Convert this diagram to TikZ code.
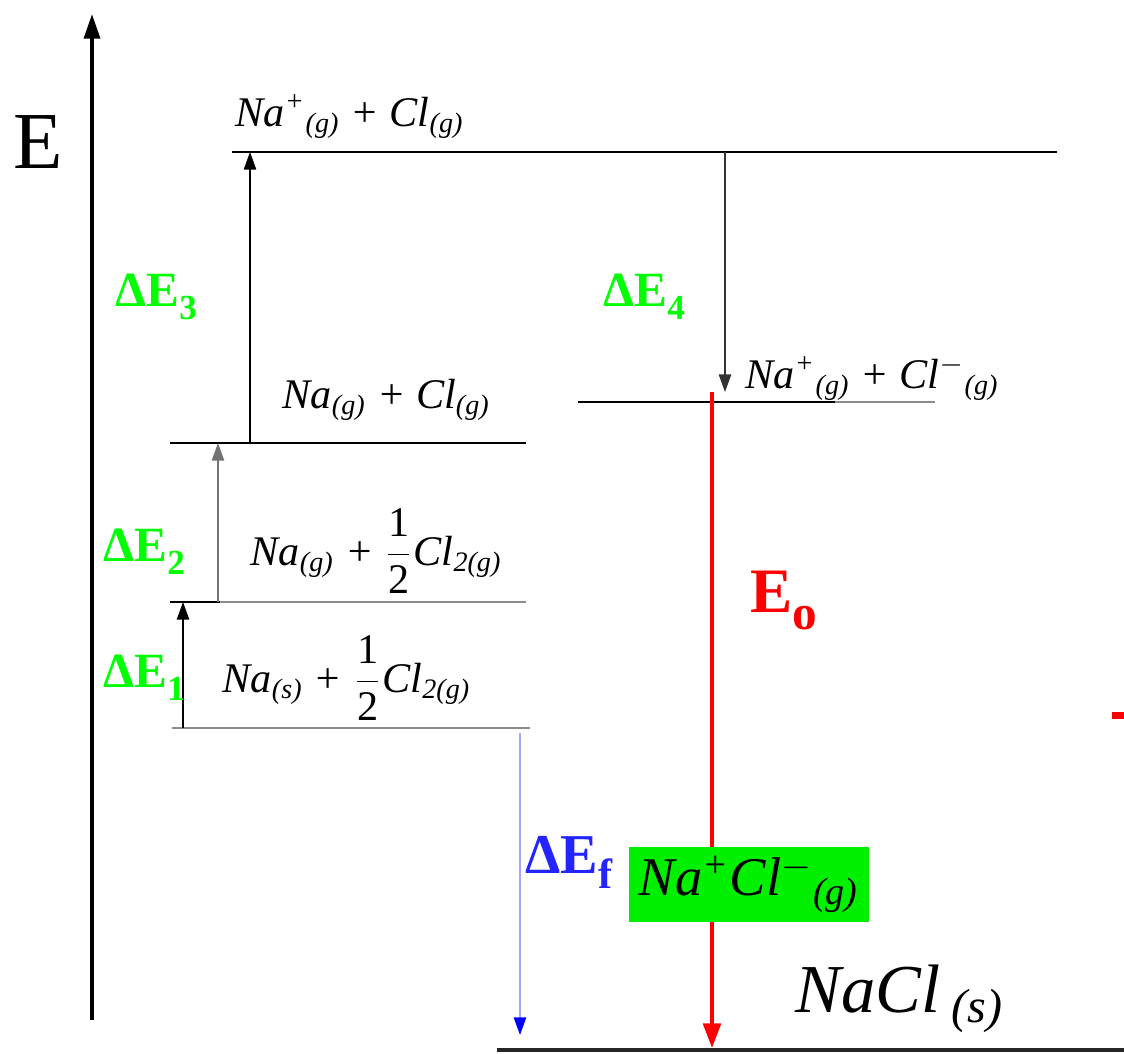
\documentclass[tikz,border=0pt]{standalone}
\usepackage{amsmath}
\usepackage{fontspec}
\setmainfont{Liberation Serif}
\usetikzlibrary{arrows.meta}
\definecolor{delta-green}{HTML}{00FF00}
\definecolor{box-green}{HTML}{00F000}
\definecolor{level-grey}{HTML}{8C8C8C}
\definecolor{delta-blue}{HTML}{2424FF}
\definecolor{eo-red}{HTML}{FF0000}
\newcommand{\phs}[1]{\textsubscript{(\textit{#1})}}
\newcommand{\halfmol}{$\dfrac{\text{\upshape 1}}{\text{\upshape 2}}$}
\newcommand{\lowidx}[2]{\raisebox{-0.28em}{\fontsize{#1}{#1}\selectfont #2}}

\begin{document}
\begin{tikzpicture}[x=0.01cm, y=-0.01cm,
    lvl/.style={line width=0.7pt},
    lbl/.style={font=\fontsize{12}{14}\selectfont\itshape, anchor=base west, inner sep=0pt},
    dlbl/.style={font=\fontsize{14}{16}\selectfont\bfseries, text=delta-green,
      anchor=base west, inner sep=0pt},
    up/.style={-{Triangle[length=5pt,width=3.5pt]}, line width=0.45pt}]
  \useasboundingbox (0,0) rectangle (1124,1053);

  % energy axis
  \coordinate (ax0) at (92,1020);
  \coordinate (ax1) at (92,14);
  \draw[line width=1.1pt, -{Triangle[length=7pt,width=4.5pt]}] (ax0) -- (ax1);
  \node[font=\fontsize{23}{26}\selectfont] (E) at (38,142) {E};

  % energy levels
  \coordinate (top0) at (232,152);  \coordinate (top1) at (1057,152);
  \coordinate (gas0) at (170,443);  \coordinate (gas1) at (526,443);
  \coordinate (hlf0) at (170,602);  \coordinate (hlf1) at (526,602);
  \coordinate (sol0) at (172,728);  \coordinate (sol1) at (530,728);
  \coordinate (ion0) at (578,402);  \coordinate (ion1) at (935,402);
  \coordinate (nacl0) at (497,1050); \coordinate (nacl1) at (1124,1050);
  \draw[lvl] (top0) -- (top1);
  \draw[lvl] (gas0) -- (gas1);
  \draw[lvl, level-grey] (hlf0) -- (hlf1);
  \draw[lvl] (hlf0) -- ++(50,0);
  \draw[lvl, level-grey] (sol0) -- (sol1);
  \draw[lvl, level-grey] (ion0) -- (ion1);
  \draw[lvl] (ion0) -- ++(257,0);
  \draw[line width=1pt, black!85] (nacl0) -- (nacl1);

  % level labels
  \node[lbl] (top) at (235,126) {Na\textsuperscript{+}\phs{g} + Cl\phs{g}};
  \node[lbl] (gas) at (282,408) {Na\phs{g} + Cl\phs{g}};
  \node[lbl] (hlf) at (250,565) {Na\phs{g} + \halfmol Cl\textsubscript{2(\textit{g})}};
  \node[lbl] (sol) at (222,692) {Na\phs{s} + \halfmol Cl\textsubscript{2(\textit{g})}};
  \node[lbl] (ion) at (745,388) {Na\textsuperscript{+}\phs{g} + Cl\textsuperscript{$-$}\phs{g}};
  \node[lbl, font=\fontsize{19.5}{22}\selectfont\itshape] (nacl) at (795,1012)
    {NaCl\,\phs{s}};

  % steps
  \coordinate (a1s) at (183,728); \coordinate (a1e) at (183,602);
  \coordinate (a2s) at (218,602); \coordinate (a2e) at (218,443);
  \coordinate (a3s) at (250,443); \coordinate (a3e) at (250,152);
  \coordinate (a4s) at (725,152); \coordinate (a4e) at (725,392);
  \coordinate (eos) at (712,392); \coordinate (eoe) at (712,1048);
  \coordinate (efs) at (520,733); \coordinate (efe) at (520,1035);
  \draw[up] (a1s) -- (a1e);
  \draw[up, black!55] (a2s) -- (a2e);
  \draw[up] (a3s) -- (a3e);
  \draw[up, black!80] (a4s) -- (a4e);
  \draw[eo-red, line width=1.1pt, -{Triangle[length=7pt,width=5pt]}] (eos) -- (eoe);
  \draw[blue!35, line width=0.5pt, -{Triangle[length=5pt,width=3.5pt,color=blue,fill=blue]}]
    (efs) -- (efe);

  \node[dlbl] (d1) at (103,687) {ΔE\lowidx{10}{1}};
  \node[dlbl] (d2) at (103,561) {ΔE\lowidx{10}{2}};
  \node[dlbl] (d3) at (115,306) {ΔE\lowidx{10}{3}};
  \node[dlbl] (d4) at (603,306) {ΔE\lowidx{10}{4}};
  \node[dlbl, text=delta-blue, font=\fontsize{16}{20}\selectfont\bfseries] (df) at (525,873)
    {ΔE\lowidx{12}{f}};
  \node[dlbl, text=eo-red, font=\fontsize{18}{20}\selectfont\bfseries] (eo) at (750,612)
    {E\lowidx{14}{o}};

  % ion pair
  \node[fill=box-green, minimum width=2.4cm, minimum height=0.75cm, inner sep=0pt,
    font=\fontsize{15.5}{18}\selectfont\itshape] (pair) at (749,884)
    {Na\textsuperscript{+}Cl\textsuperscript{$-$}\phs{g}};

  \fill[eo-red] (1112,712) rectangle (1124,719);
\end{tikzpicture}
\end{document}
